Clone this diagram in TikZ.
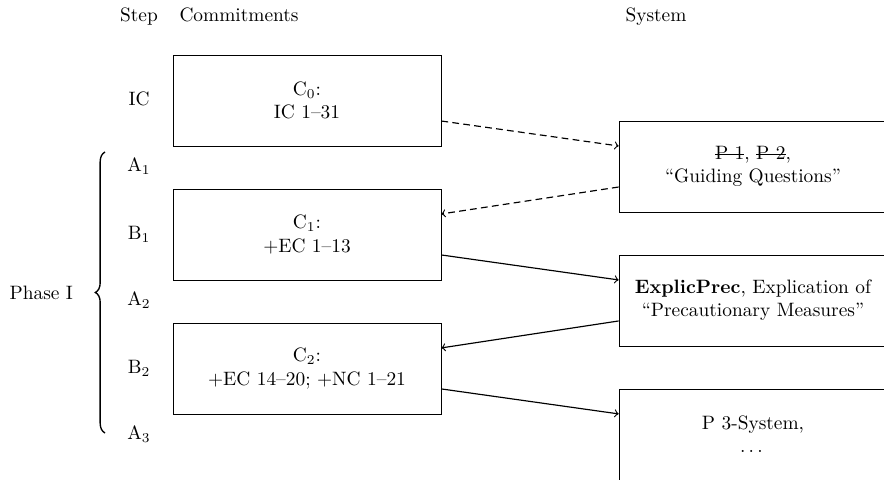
\documentclass[tikz,border=0pt]{standalone}
\usepackage{amsmath}
\usepackage{tikz}
\usetikzlibrary{arrows,positioning,decorations.pathreplacing}

\newcommand{\strikeout}[1]{\setbox0\hbox{#1}\rlap{\rule[0.55ex]{\wd0}{0.4pt}}\box0}

\begin{document}
\begin{tikzpicture}[
    node distance=2.43cm,
    commit/.style={rectangle, draw, minimum width=4.86cm, minimum height=1.65cm, align=center},
    sys/.style={rectangle, draw, minimum width=4.86cm, minimum height=1.65cm, align=center},
    head/.style={text height=1.6ex, text depth=0.4ex},
    steplbl/.style={text height=1.6ex, text depth=0.4ex},
    arrow/.style={->, semithick},
    darrow/.style={->, semithick, dash pattern=on 3.5pt off 2.2pt}
]
    \clip (-5.569,-6.866) rectangle (10.466,1.823);

    \node[commit] (c0) at (0,0) {C$_0$:\\IC 1--31};
    \node[commit, below of=c0] (c1) {C$_1$:\\+EC 1--13};
    \node[commit, below of=c1] (c2) {C$_2$:\\+EC 14--20; +NC 1--21};

    \node[sys] (s1) at (8.09,-1.197) {\strikeout{P 1}, \strikeout{P 2},\\``Guiding Questions''};
    \node[sys, below of=s1] (s2) {\textbf{ExplicPrec}, Explication of\\``Precautionary Measures''};
    \node[sys, below of=s2] (s3) {P 3-System,\\$\dots$};

    \node[steplbl] (ic) at (-3.047,0) {IC};
    \node[steplbl] (a1) at (ic |- s1) {A$_1$};
    \node[steplbl] (b1) at (ic |- c1) {B$_1$};
    \node[steplbl] (a2) at (ic |- s2) {A$_2$};
    \node[steplbl] (b2) at (ic |- c2) {B$_2$};
    \node[steplbl] (a3) at (ic |- s3) {A$_3$};

    \coordinate (top) at (0,1.515);
    \node[head] (hstep) at (ic |- top) {Step};
    \node[head, anchor=west] (hcommit) at (c0.west |- top) {Commitments};
    \node[head, anchor=west] (hsys) at (s1.west |- top) {System};

    \coordinate (brtop) at (-3.664,-0.934);
    \coordinate (brbot) at (-3.664,-6.031);
    \draw[decorate, decoration={brace, amplitude=5pt}, line width=0.7pt] (brbot) -- (brtop)
        node[midway, left=13pt, line width=0.4pt] (phase) {Phase I};

    \draw[darrow] ([yshift=-0.372cm]c0.east) -- ([yshift=0.372cm]s1.west);
    \draw[darrow] ([yshift=-0.372cm]s1.west) -- ([yshift=0.372cm]c1.east);
    \draw[arrow] ([yshift=-0.372cm]c1.east) -- ([yshift=0.372cm]s2.west);
    \draw[arrow] ([yshift=-0.372cm]s2.west) -- ([yshift=0.372cm]c2.east);
    \draw[arrow] ([yshift=-0.372cm]c2.east) -- ([yshift=0.372cm]s3.west);
\end{tikzpicture}
\end{document}
